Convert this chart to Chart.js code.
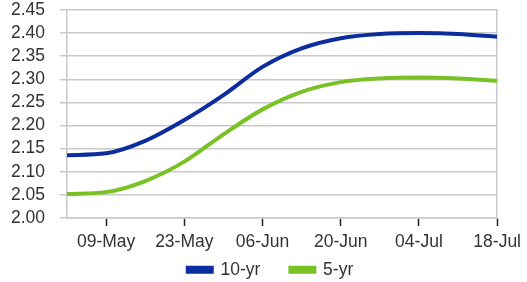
<!DOCTYPE html>
<html>
<head>
<meta charset="utf-8">
<script src="https://cdn.jsdelivr.net/npm/chart.js@4/dist/chart.umd.min.js"></script>
<style>
  html, body { margin: 0; padding: 0; background: #fff; }
  #wrap { width: 527px; height: 282px; }
</style>
</head>
<body>
<div id="wrap"><canvas id="yields"></canvas></div>
<script>
// weekly observations, 02-May .. 18-Jul
const weeks = ['02-May', '09-May', '16-May', '23-May', '30-May', '06-Jun',
               '13-Jun', '20-Jun', '27-Jun', '04-Jul', '11-Jul', '18-Jul'];
const tenYr = [2.136, 2.140, 2.167, 2.212, 2.266, 2.327, 2.367, 2.389, 2.398, 2.400, 2.398, 2.392];
const fiveYr = [2.052, 2.056, 2.080, 2.122, 2.181, 2.235, 2.273, 2.294, 2.302, 2.304, 2.302, 2.297];
const labelWeeks = [1, 3, 5, 7, 9, 11];
const yTicks = [2.00, 2.05, 2.10, 2.15, 2.20, 2.25, 2.30, 2.35, 2.40, 2.45];

const BLUE = '#0b2d9e';
const GREEN = '#78c225';
const GRID = '#c9c9c9';
const FONT = { family: '"Liberation Sans", Arial, sans-serif', size: 17.5 };

// ── helpers ─────────────────────────────────────────────
const toPoints = vals => vals.map((v, i) => ({ x: i, y: v }));

const series = (label, vals, color) => ({
  label,
  data: toPoints(vals),
  borderColor: color,
  backgroundColor: color,
  borderWidth: 4,
  pointRadius: 0,
  tension: 0.35,
  cubicInterpolationMode: 'monotone',
  fill: false
});

// legend uses one padding for item gap and top offset; grow its box upwards so the row sits higher
const legendNudge = {
  id: 'legendNudge',
  afterLayout(chart) {
    const lg = chart.legend;
    if (!lg) return;
    lg.top -= 31; lg.height += 31;
    lg.left += 7; lg.right += 7;
  }
};

new Chart(document.getElementById('yields'), {
  type: 'line',
  data: { datasets: [series('10-yr', tenYr, BLUE), series('5-yr', fiveYr, GREEN)] },
  plugins: [legendNudge],
  options: {
    responsive: true, maintainAspectRatio: false,
    animation: false,
    layout: { padding: { top: 10, left: 0, right: 0, bottom: 0 } },
    scales: {
      x: {
        type: 'linear', min: 0, max: weeks.length - 1,
        afterBuildTicks: s => { s.ticks = labelWeeks.map(v => ({ value: v })); },
        afterFit: s => { s.height = 44; },
        grid: { drawOnChartArea: false, drawTicks: true, tickLength: 8, tickColor: '#222', tickWidth: 1.5 },
        border: { color: GRID, width: 1.5 },
        ticks: { color: '#333', font: FONT, padding: 6, maxRotation: 0, autoSkip: false,
                 callback: v => weeks[v] }
      },
      y: {
        min: 2.0, max: 2.45,
        afterBuildTicks: s => { s.ticks = yTicks.map(v => ({ value: v })); },
        afterFit: s => { s.width = 67; s.paddingTop = 0; s.paddingBottom = 0; },
        grid: { color: GRID, lineWidth: 1.5, tickLength: 7, tickColor: GRID },
        border: { color: GRID, width: 1.5 },
        ticks: { color: '#333', font: FONT, padding: 15, autoSkip: false, callback: v => v.toFixed(2) }
      },
      frame: {
        position: 'right', min: 2.0, max: 2.45,
        afterFit: s => { s.width = 27; },
        grid: { drawOnChartArea: false, drawTicks: false },
        border: { color: GRID, width: 1.5 },
        ticks: { display: false }
      }
    },
    plugins: {
      legend: {
        position: 'bottom',
        maxHeight: 20,
        labels: { color: '#333', font: FONT, boxWidth: 24, boxHeight: 4, padding: 30 }
      },
      tooltip: { enabled: false }
    }
  }
});
</script>
</body>
</html>
